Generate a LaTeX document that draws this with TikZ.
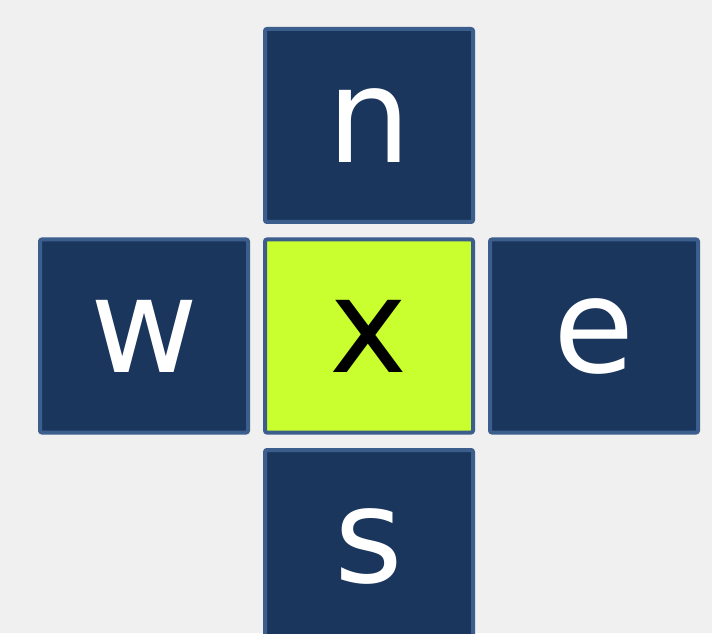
\documentclass[tikz,border=0pt]{standalone}
\usepackage{fontspec}
\setmainfont{DejaVu Sans}
\definecolor{bg}{HTML}{F0F0F0}
\definecolor{navy}{HTML}{1A365D}
\definecolor{edge}{HTML}{3B5E8C}
\definecolor{lime}{HTML}{C9FF2F}
\begin{document}
\begin{tikzpicture}[x=1pt,y=1pt,
  cell/.style={draw=edge, line width=4pt, rounded corners=2pt, fill=navy, text=white,
    minimum width=208pt, minimum height=193pt, inner sep=0pt,
    font=\fontsize{132}{132}\selectfont},
  center/.style={cell, fill=lime, text=black}]
\useasboundingbox (0,0) rectangle (712,633);
\fill[bg] (0,0) rectangle (712,633);
\clip (0,0) rectangle (712,633);
\node[cell] (n) at (369,507.5) {n};
\node[cell] (w) at (144,297) {w};
\node[center] (x) at (369,297) {x};
\node[cell] (e) at (594,297) {e};
\node[cell] (s) at (369,86.5) {s};
\end{tikzpicture}
\end{document}
